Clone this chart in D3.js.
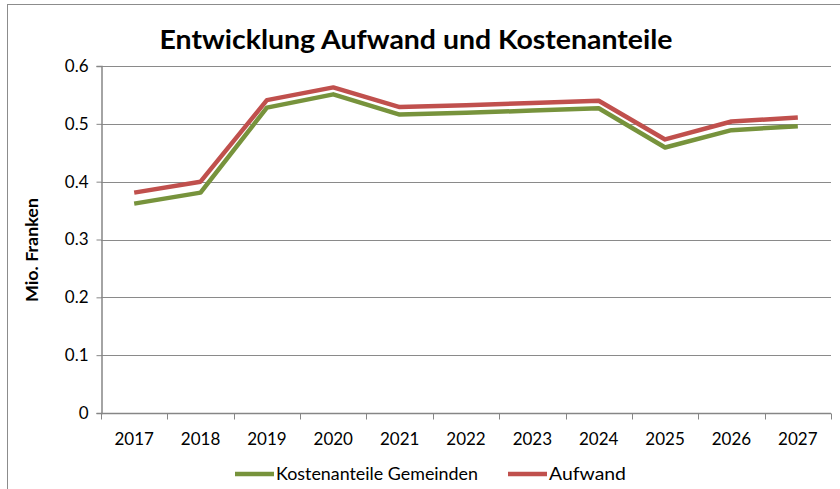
<!DOCTYPE html>
<html>
<head>
<meta charset="utf-8">
<script src="https://cdn.jsdelivr.net/npm/d3@7"></script>
<style>
  body { margin: 0; background: #fff; }
  svg { display: block; font-family: Lato, "Open Sans", sans-serif; }
</style>
</head>
<body>
<div id="chart"></div>
<script>
// years on the category axis
const years = ['2017','2018','2019','2020','2021','2022','2023','2024','2025','2026','2027'];
// Kostenanteile Gemeinden (Mio. Franken)
const kostenanteile = [0.362, 0.381, 0.528, 0.551, 0.516, 0.519, 0.523, 0.527, 0.459, 0.489, 0.496];
// Aufwand (Mio. Franken)
const aufwand = [0.381, 0.400, 0.541, 0.563, 0.529, 0.532, 0.536, 0.540, 0.473, 0.504, 0.511];
const yTicks = [0, 0.1, 0.2, 0.3, 0.4, 0.5, 0.6];

const series = [
  {name: 'Kostenanteile Gemeinden', values: kostenanteile, color: '#77933C'},
  {name: 'Aufwand', values: aufwand, color: '#C0504D'}
];

const W = 840, H = 489;
const m = {top: 66, right: 9, bottom: 76, left: 101};

const svg = d3.select('#chart').append('svg')
  .attr('width', W)
  .attr('height', H);

// outer chart border (runs off the picture on right and bottom)
svg.append('rect')
  .attr('x', 7.5).attr('y', 4.5)
  .attr('width', W + 10).attr('height', H + 10)
  .attr('fill', 'none')
  .attr('stroke', '#8c8c8c')
  .attr('stroke-width', 1);

const x = d3.scaleBand().domain(years).range([m.left, W - m.right]);
const y = d3.scaleLinear().domain([0, 0.6]).range([H - m.bottom, m.top]);

// gridlines
svg.append('g')
  .selectAll('line')
  .data(yTicks.filter(d => d > 0))
  .join('line')
    .attr('x1', m.left).attr('x2', W - m.right)
    .attr('y1', d => Math.round(y(d)) + 0.5)
    .attr('y2', d => Math.round(y(d)) + 0.5)
    .attr('stroke', '#8a8a8a')
    .attr('stroke-width', 1);

// y axis
const yAxis = svg.append('g')
  .attr('transform', `translate(${m.left + 0.5},0)`)
  .call(d3.axisLeft(y).tickValues(yTicks).tickSize(5).tickPadding(8).tickFormat(d => d === 0 ? '0' : d3.format('.1f')(d)));
yAxis.select('.domain').attr('stroke', '#868686').attr('stroke-width', 1.5);
yAxis.selectAll('.tick line').attr('stroke', '#868686');
yAxis.selectAll('.tick text').attr('font-size', 17).attr('fill', '#000').attr('font-family', 'Lato, sans-serif');

// x axis, ticks between categories
const xAxisG = svg.append('g')
  .attr('transform', `translate(0,${Math.round(y(0)) + 0.5})`);
xAxisG.append('line')
  .attr('x1', m.left).attr('x2', W - m.right)
  .attr('stroke', '#868686').attr('stroke-width', 1.5);
const bounds = years.map(d => x(d)).concat([W - m.right]);
xAxisG.selectAll('.tk')
  .data(bounds)
  .join('line')
    .attr('class', 'tk')
    .attr('x1', d => Math.round(d) + 0.5).attr('x2', d => Math.round(d) + 0.5)
    .attr('y1', 0).attr('y2', 6)
    .attr('stroke', '#868686');
xAxisG.selectAll('.lb')
  .data(years)
  .join('text')
    .attr('class', 'lb')
    .attr('x', d => x(d) + x.bandwidth() / 2)
    .attr('y', 31)
    .attr('text-anchor', 'middle')
    .attr('font-size', 17)
    .text(d => d);

// lines
const line = d3.line()
  .x((d, i) => x(years[i]) + x.bandwidth() / 2)
  .y(d => y(d));

svg.append('g')
  .selectAll('path')
  .data(series)
  .join('path')
    .attr('d', d => line(d.values))
    .attr('fill', 'none')
    .attr('stroke', d => d.color)
    .attr('stroke-width', 4.5)
    .attr('stroke-linejoin', 'round');

// title
svg.append('text')
  .attr('x', 416).attr('y', 49)
  .attr('text-anchor', 'middle')
  .attr('font-size', 27)
  .attr('font-weight', 'bold')
  .attr('textLength', 513)
  .attr('lengthAdjust', 'spacingAndGlyphs')
  .text('Entwicklung Aufwand und Kostenanteile');

// y axis title
svg.append('text')
  .attr('transform', 'translate(38,250) rotate(-90)')
  .attr('text-anchor', 'middle')
  .attr('font-size', 17)
  .attr('font-weight', 'bold')
  .attr('textLength', 104)
  .attr('lengthAdjust', 'spacingAndGlyphs')
  .text('Mio. Franken');

// legend
const legendX = [235, 508];
const legendW = [202, 77];
const leg = svg.append('g')
  .selectAll('g')
  .data(series)
  .join('g')
    .attr('transform', (d, i) => `translate(${legendX[i]},474)`);
leg.append('line')
  .attr('x1', 0).attr('x2', 39)
  .attr('stroke', d => d.color)
  .attr('stroke-width', 4.5);
leg.append('text')
  .attr('x', 41).attr('y', 6)
  .attr('font-size', 17)
  .attr('textLength', (d, i) => legendW[i])
  .attr('lengthAdjust', 'spacingAndGlyphs')
  .text(d => d.name);
</script>
</body>
</html>
